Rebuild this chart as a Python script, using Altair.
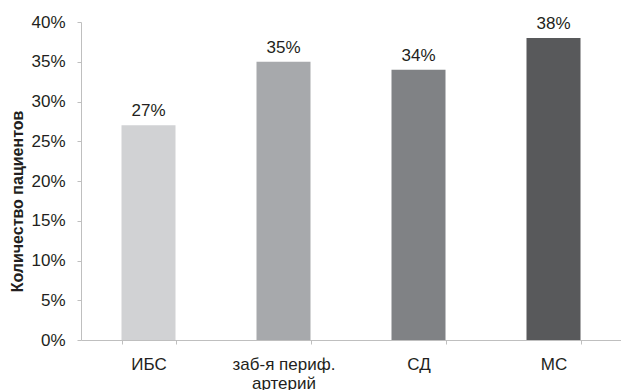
import altair as alt
import pandas as pd

categories = ["ИБС", "заб-я периф. артерий", "СД", "МС"]
values = [0.27, 0.35, 0.34, 0.38]
colors = ["#d1d2d4", "#a7a9ac", "#808285", "#58595b"]
y_ticks = [0, 0.05, 0.1, 0.15, 0.2, 0.25, 0.3, 0.35, 0.4]

df = pd.DataFrame({"cat": categories, "val": values})

FONT = "Liberation Sans"
TXT = "#231f20"
AX = "#bfbfbf"

x = alt.X(
    "cat:N",
    sort=categories,
    title=None,
    scale=alt.Scale(paddingInner=0.6, paddingOuter=0.3),
    axis=alt.Axis(
        labelAngle=0,
        labelFont=FONT,
        labelFontSize=17,
        labelColor=TXT,
        labelPadding=12,
        labelLineHeight=19,
        labelExpr="datum.value == 'заб-я периф. артерий' ? ['заб-я периф.', 'артерий'] : datum.label",
        tickBand="extent",
        tickSize=4,
        tickColor=AX,
        domainColor=AX,
        grid=False,
    ),
)

y = alt.Y(
    "val:Q",
    scale=alt.Scale(domain=[0, 0.4]),
    axis=alt.Axis(
        format=".0%",
        values=y_ticks,
        labelOverlap=False,
        title="Количество пациентов",
        titleFont=FONT,
        titleFontSize=16,
        titleFontWeight="bold",
        titleColor=TXT,
        titleAngle=-90,
        titleX=-64,
        titleY=179,
        titleAlign="center",
        titleBaseline="middle",
        labelFont=FONT,
        labelFontSize=17,
        labelColor=TXT,
        labelPadding=12,
        tickSize=4,
        tickColor=AX,
        domainColor=AX,
        grid=False,
    ),
)

bars = alt.Chart(df).mark_bar().encode(
    x=x,
    y=y,
    color=alt.Color("cat:N", sort=categories,
                    scale=alt.Scale(domain=categories, range=colors), legend=None),
)

labels = alt.Chart(df).mark_text(
    baseline="bottom", dy=-5, font=FONT, fontSize=17, color=TXT
).encode(
    x=x,
    y=y,
    text=alt.Text("val:Q", format=".0%"),
)

chart = (
    alt.layer(bars, labels)
    .properties(
        width=540,
        height=318,
        autosize=alt.AutoSizeParams(type="none"),
        padding={"left": 81, "top": 22, "right": 0, "bottom": 50},
        background="white",
    )
    .configure_view(stroke=None)
)

chart.save("out.html", embed_options={"renderer": "svg", "actions": False})
